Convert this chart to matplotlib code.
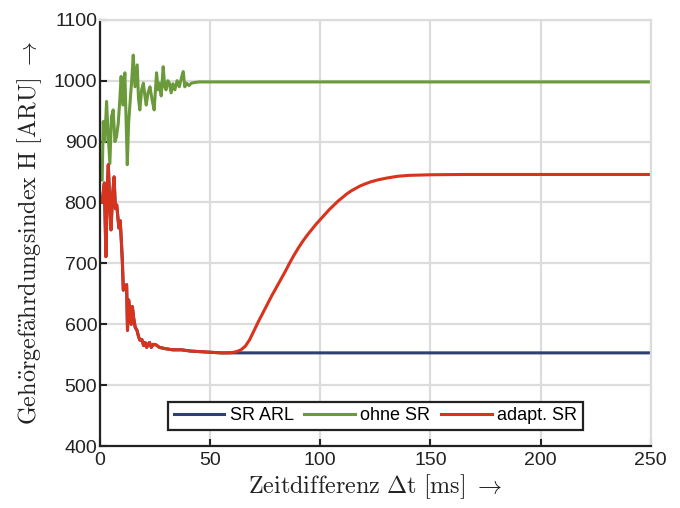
import matplotlib
matplotlib.use("Agg")
import matplotlib.pyplot as plt

# --- data ---
# ohne SR (green)
ohne_t = [1, 1.5, 2.2, 3.0, 3.6, 4.5, 5.2, 6.0, 6.8, 7.5, 8.3, 9.0, 9.6, 10.4, 11.3,
          12.4, 13.0, 13.7, 14.4, 15.1, 15.9, 16.9, 17.5, 18.1, 18.9, 19.7, 20.4, 21.0,
          21.8, 22.7, 23.6, 24.6, 25.7, 26.4, 27.0, 27.8, 28.7, 29.4, 30.0, 30.8, 31.5,
          32.3, 33.1, 34.0, 35.0, 36.0, 37.0, 37.8, 38.5, 39.3, 40.4, 41.5, 43.0, 45.0,
          48.0, 250]
ohne_h = [837, 933, 900, 966, 920, 864, 940, 952, 900, 908, 930, 968, 1007, 960, 1013,
          862, 930, 966, 1000, 1042, 990, 1026, 970, 952, 985, 996, 975, 960,
          980, 990, 970, 952, 1013, 985, 996, 975, 1023, 990, 985, 1000, 996,
          980, 995, 985, 1000, 990, 1005, 1015, 990, 996, 992, 996, 997, 998,
          998, 998]

# transient shared by both SR variants
common_t = [1, 2.0, 2.7, 3.3, 3.8, 4.4, 5.0, 5.7, 6.4, 7.0, 7.6, 8.6, 9.2, 9.8, 10.2,
            10.6, 11.3, 12.1, 12.5, 13.0, 13.6, 14.2, 14.7, 15.3, 16.0, 16.8, 17.5,
            18.1, 19.0, 19.8, 20.5, 21.2, 22.0, 22.5, 23.3, 24.2, 25.5, 27.0, 29.5,
            33, 37, 41, 45.5, 50, 55, 58]
common_h = [800, 832, 711, 820, 862, 800, 755, 810, 842, 790, 796, 758, 770, 730, 700,
            656, 662, 665, 590, 640, 623, 600, 629, 610, 595, 590, 580,
            574, 575, 565, 570, 562, 568, 570, 562, 567, 566, 562, 560,
            558, 558, 556, 555, 554, 553, 553]

# SR ARL (blue) stays flat afterwards
arl_t = [250]
arl_h = [553]

# adapt. SR (red) rises again
adapt_t = [60, 62, 64, 66, 68, 70, 72, 74, 76, 78, 80, 82, 84, 86, 88, 90, 92, 94,
           96, 98, 100, 102, 104, 106, 108, 110, 112, 114, 116, 118, 120, 123, 126,
           130, 135, 140, 150, 165, 250]
adapt_h = [553.5, 555, 558, 564, 575, 590, 605, 619, 633, 647, 660, 673, 686, 700,
           713, 725, 736, 746, 755, 764, 772, 780, 788, 795, 802, 808, 814, 819,
           823, 827, 830, 834, 837, 840, 843, 844.5, 845.5, 846, 846]

x_ticks = [0, 50, 100, 150, 200, 250]
y_ticks = [400, 500, 600, 700, 800, 900, 1000, 1100]

c_blue = "#2f3f6f"
c_green = "#6a9a3a"
c_red = "#d8331c"
c_dark = "#222222"

plt.rcParams["mathtext.fontset"] = "cm"

fig = plt.figure(figsize=(6.8, 5.08), dpi=100)
ax = fig.add_axes([0.147, 0.122, 0.81, 0.839])

ax.plot(common_t + arl_t, common_h + arl_h, color=c_blue, lw=2.2, label="SR ARL")
ax.plot(ohne_t, ohne_h, color=c_green, lw=2.2, label="ohne SR")
ax.plot(common_t + adapt_t, common_h + adapt_h, color=c_red, lw=2.2, label="adapt. SR")

ax.set_xlim(0, 250)
ax.set_ylim(400, 1100)
ax.set_xticks(x_ticks)
ax.set_yticks(y_ticks)
ax.grid(True, color="#dcdcdc", lw=1.6)
ax.set_axisbelow(True)

for side in ["left", "bottom"]:
    ax.spines[side].set_color(c_dark)
    ax.spines[side].set_linewidth(1.6)
for side in ["top", "right"]:
    ax.spines[side].set_color("#dcdcdc")
    ax.spines[side].set_linewidth(1.6)

ax.tick_params(direction="in", length=5, width=1.5, color=c_dark,
               labelsize=14, top=False, right=False)
ax.tick_params(axis="y", pad=2)
ax.tick_params(axis="x", pad=4)
for lbl in ax.get_xticklabels() + ax.get_yticklabels():
    lbl.set_family("Liberation Sans")
    lbl.set_color(c_dark)

ax.set_xlabel(r"$\mathrm{Zeitdifferenz}\ \Delta\mathrm{t}\ [\mathrm{ms}]\ \rightarrow$",
              fontsize=17.4, labelpad=3, color=c_dark)
ax.set_ylabel(r"$\mathrm{Geh\ddot{o}rgef\ddot{a}hrdungsindex}\ \mathrm{H}\ [\mathrm{ARU}]\ \rightarrow$",
              fontsize=17.4, labelpad=7, color=c_dark)

leg = ax.legend(loc="lower center", ncol=3, bbox_to_anchor=(0.5, 0.0),
                frameon=True, fancybox=False, framealpha=1, handlelength=2.8,
                columnspacing=0.6, handletextpad=0.3, borderpad=0.3,
                borderaxespad=0.9, prop={"family": "Liberation Sans", "size": 13})
leg.get_frame().set_edgecolor(c_dark)
leg.get_frame().set_linewidth(1.6)

fig.savefig("out.png", dpi=100)
